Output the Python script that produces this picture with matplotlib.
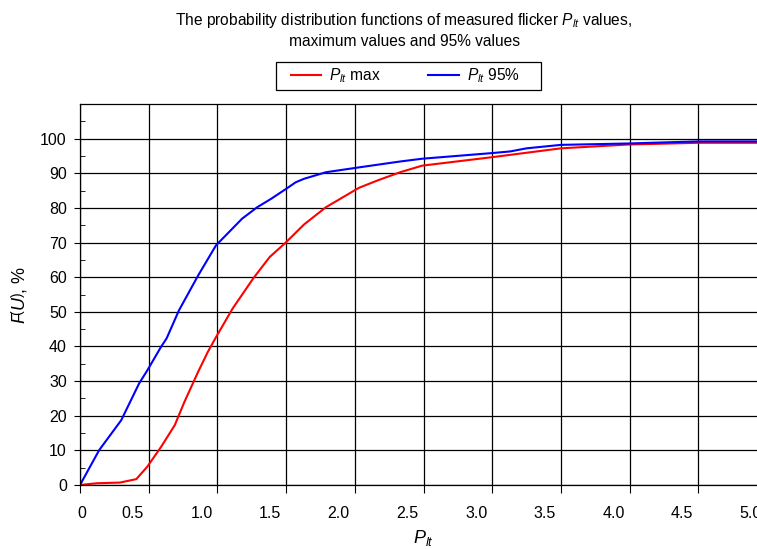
import numpy as np
import matplotlib.pyplot as plt
import matplotlib.transforms as mtrans
from matplotlib.patches import Rectangle
from matplotlib.ticker import MultipleLocator

plt.rcParams['font.family'] = ['Liberation Sans', 'DejaVu Sans']
plt.rcParams['mathtext.fontset'] = 'custom'
plt.rcParams['mathtext.rm'] = 'Liberation Sans'
plt.rcParams['mathtext.it'] = 'Liberation Sans:italic'

# Plt max curve
x_max = [0, 0.12, 0.29, 0.41, 0.49, 0.59, 0.69, 0.76, 0.86, 0.93, 0.99, 1.11, 1.26, 1.38,
         1.50, 1.63, 1.79, 2.03, 2.17, 2.33, 2.49, 2.99, 3.50, 3.99, 4.50, 5.0]
y_max = [0, 0.5, 0.7, 1.7, 5.3, 11.0, 17.3, 24.0, 32.7, 38.4, 42.7, 50.9, 59.6, 65.8,
         70.1, 75.2, 80.2, 85.8, 88.0, 90.3, 92.2, 94.6, 97.2, 98.3, 98.8, 98.8]

# Plt 95% curve
x_95 = [0, 0.14, 0.30, 0.43, 0.49, 0.59, 0.63, 0.72, 0.86, 0.99, 1.18, 1.29, 1.39, 1.50,
        1.57, 1.63, 1.79, 2.03, 2.33, 2.49, 2.99, 3.13, 3.25, 3.50, 3.99, 4.50, 5.0]
y_95 = [0, 10.1, 18.7, 29.3, 33.1, 39.9, 42.3, 50.4, 60.5, 69.2, 76.9, 80.2, 82.6, 85.5,
        87.4, 88.4, 90.3, 91.7, 93.4, 94.2, 95.8, 96.3, 97.2, 98.2, 98.6, 99.2, 99.2]

xticks = [0, 0.5, 1.0, 1.5, 2.0, 2.5, 3.0, 3.5, 4.0, 4.5, 5.0]
xlabels = ['0', '0.5', '1.0', '1.5', '2.0', '2.5', '3.0', '3.5', '4.0', '4.5', '5.0']

fig = plt.figure(figsize=(7.57, 5.49), dpi=100)
ax = fig.add_axes([80/757, 1 - 485/549, 687/757, (485 - 104)/549])

l1, = ax.plot(x_max, y_max, color='#ff0000', lw=1.5, label=r'$\mathit{P}_{\mathit{lt}}$ max')
l2, = ax.plot(x_95, y_95, color='#0000ff', lw=1.5, label=r'$\mathit{P}_{\mathit{lt}}$ 95%')

ax.set_xlim(0, 5.0)
ax.set_ylim(0, 110)
ax.set_xticks(xticks)
ax.set_xticklabels(xlabels)
ax.set_yticks(range(0, 101, 10))
ax.yaxis.set_minor_locator(MultipleLocator(5))
ax.grid(True, which='major', color='black', lw=0.9)
ax.tick_params(axis='x', which='major', length=6, pad=9, labelsize=11.5)
ax.tick_params(axis='y', which='major', length=4.5, pad=5, labelsize=11.5)
ax.tick_params(axis='y', which='minor', direction='in', length=3.5)
for s in ax.spines.values():
    s.set_linewidth(0.9)

# excel-style shift of the x labels (sit left of the gridlines)
for i, t in enumerate(ax.xaxis.get_major_ticks()):
    dx = 2 if i == 0 else -16
    off = mtrans.ScaledTranslation(dx / 100, 0, fig.dpi_scale_trans)
    t.label1.set_transform(t.label1.get_transform() + off)

ax.set_xlabel(r'$\mathit{P}_{\mathit{lt}}$', fontsize=13, labelpad=5)
ax.set_ylabel(r'$\mathit{F}\!\left(\mathit{U}\right)$, %', fontsize=13, labelpad=8)

fig.text(403/757, 1 - 20/549, r'The probability distribution functions of measured flicker $\mathit{P}_{\mathit{lt}}$ values,',
         ha='center', va='center', fontsize=11.2)
fig.text(405/757, 1 - 41/549, 'maximum values and 95% values', ha='center', va='center', fontsize=11.2)

# legend without its own frame, wide excel-like box drawn around it
leg = fig.legend(handles=[l1, l2], loc='center', bbox_to_anchor=(405/757, 1 - 76/549), ncol=2,
                 frameon=False, fontsize=11.2, handlelength=1.95, handletextpad=0.5,
                 columnspacing=3.1, borderpad=0.2, borderaxespad=0)
fig.patches.append(Rectangle((276/757, 1 - 90/549), 265/757, 28/549, transform=fig.transFigure,
                             fill=False, edgecolor='black', lw=0.9))

fig.savefig('out.png', dpi=100)
